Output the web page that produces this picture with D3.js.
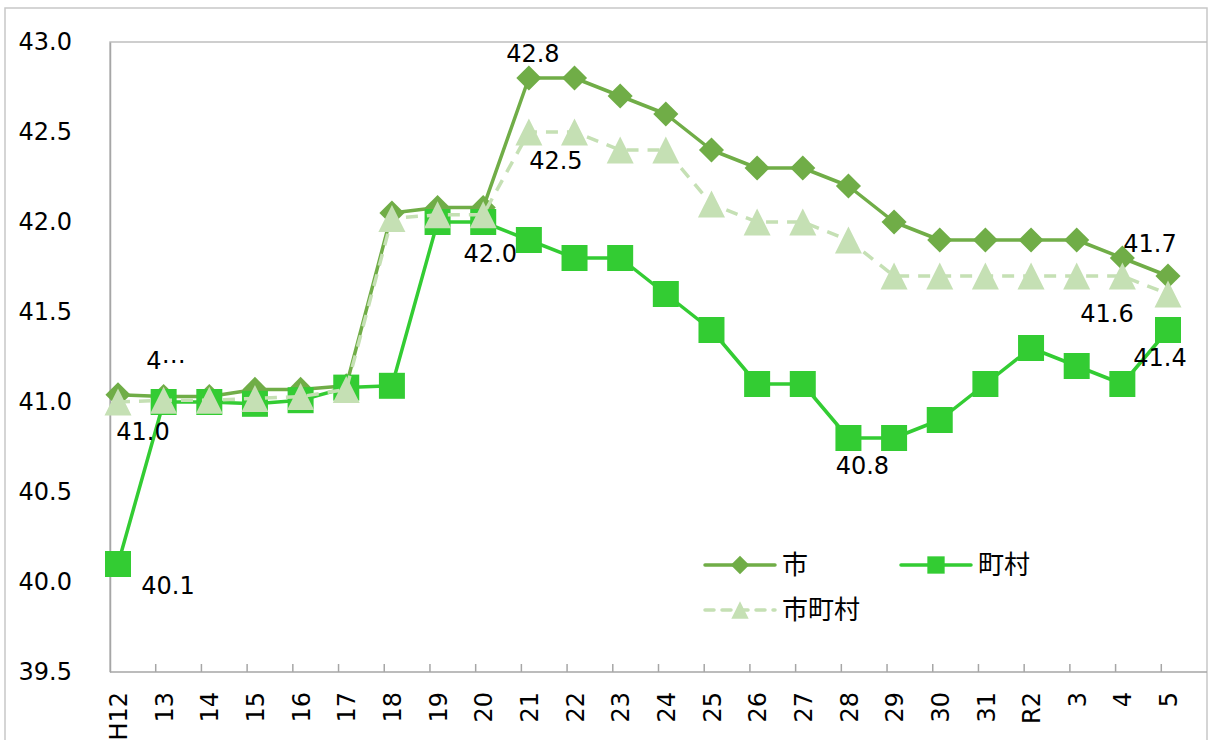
<!DOCTYPE html>
<html lang="ja">
<head>
  <meta charset="UTF-8">
  <title>市・町村・市町村</title>
  <script src="https://d3js.org/d3.v7.min.js"></script>
  <style>
    body { margin: 0; background: #fff; }
    text { font-family: "DejaVu Sans", sans-serif; fill: #000; }
    .legend text { font-family: "Noto Sans CJK JP", sans-serif; }
  </style>
</head>
<body>
<svg id="canvas" width="1213" height="740"></svg>
<script>
// categories (fiscal years)
const categories = ["H12","13","14","15","16","17","18","19","20","21","22","23","24","25","26","27","28","29","30","31","R2","3","4","5"];

// series values
const shi        = [41.04,41.03,41.03,41.07,41.07,41.09,42.05,42.08,42.08,42.8,42.8,42.7,42.6,42.4,42.3,42.3,42.2,42.0,41.9,41.9,41.9,41.9,41.8,41.7];
const chouson    = [40.1,41.0,41.0,40.99,41.01,41.08,41.09,42.0,42.0,41.9,41.8,41.8,41.6,41.4,41.1,41.1,40.8,40.8,40.9,41.1,41.3,41.2,41.1,41.4];
const shichouson = [41.0,41.01,41.01,41.02,41.03,41.07,42.02,42.04,42.04,42.5,42.5,42.4,42.4,42.1,42.0,42.0,41.9,41.7,41.7,41.7,41.7,41.7,41.7,41.6];

// y tick labels
const yTicks = [39.5,40.0,40.5,41.0,41.5,42.0,42.5,43.0];

// data labels: series, category index, text
const labelSeries = ["shichouson","shi","chouson","shi","shichouson","chouson","shi","shichouson","chouson","chouson"];
const labelIndex  = [0,0,0,9,9,8,23,23,23,16];
const labelText   = ["41.0","4⋯","40.1","42.8","42.5","42.0","41.7","41.6","41.4","40.8"];

const svg = d3.select("#canvas");

// outer frame
svg.append("path")
  .attr("d", "M5,740V8H1207V740")
  .attr("fill", "none").attr("stroke", "#c8c8c8").attr("stroke-width", 1.5);

const plotL = 110, plotR = 1207, plotT = 42, plotB = 672;

const x = d3.scalePoint().domain(categories).range([118, 1168]);
const xBand = d3.scaleBand().domain(categories).range([plotL, plotR]);
const y = d3.scaleLinear().domain([39.5, 43.0]).range([plotB, plotT]);

// plot area border
svg.append("path")
  .attr("d", `M${plotL},${plotB}V${plotT}H${plotR}`)
  .attr("fill", "none").attr("stroke", "#bfbfbf").attr("stroke-width", 1.5);

// y axis
const yAxis = svg.append("g")
  .attr("transform", `translate(${plotL},0)`)
  .call(d3.axisLeft(y).tickValues(yTicks).tickSize(0).tickFormat(d3.format(".1f")));
yAxis.select(".domain").attr("stroke", "#a6a6a6").attr("stroke-width", 1.5);
yAxis.selectAll("text")
  .attr("x", -38)
  .attr("font-family", "DejaVu Sans")
  .attr("font-size", 24)
  .attr("fill", "#000");

// x axis labels
const xAxis = svg.append("g")
  .attr("transform", `translate(0,${plotB})`)
  .call(d3.axisBottom(x).tickSize(0));
xAxis.select(".domain").remove();
xAxis.selectAll("text")
  .attr("transform", "rotate(-90)")
  .attr("text-anchor", "end")
  .attr("x", -20)
  .attr("y", 0)
  .attr("dy", "0.36em")
  .attr("font-family", "DejaVu Sans")
  .attr("font-size", 24)
  .attr("fill", "#000");

// x axis line and tick marks at category boundaries
svg.append("line")
  .attr("x1", plotL).attr("x2", plotR)
  .attr("y1", plotB).attr("y2", plotB)
  .attr("stroke", "#a6a6a6").attr("stroke-width", 1.5);
svg.append("g").selectAll("line")
  .data(categories.slice(1))
  .join("line")
  .attr("x1", d => xBand(d)).attr("x2", d => xBand(d))
  .attr("y1", plotB).attr("y2", plotB - 8)
  .attr("stroke", "#a6a6a6").attr("stroke-width", 1.5);

// Excel-like triangle: width equals height, centred on the point
const symbolTri = {
  draw(ctx, size) {
    const h = Math.sqrt(size * 2) / 2;
    ctx.moveTo(0, -h);
    ctx.lineTo(h, h);
    ctx.lineTo(-h, h);
    ctx.closePath();
  }
};

// series
const series = {
  shi: { values: shi, name: "市", color: "#70ad47", dash: null,
         symbol: d3.symbolSquare, size: 315, rotate: 45, legendSize: 170 },
  chouson: { values: chouson, name: "町村", color: "#33cc33", dash: null,
         symbol: d3.symbolSquare, size: 676, rotate: 0, legendSize: 300 },
  shichouson: { values: shichouson, name: "市町村", color: "#c5e0b4", dash: "12,9",
         symbol: symbolTri, size: 365, rotate: 0, legendSize: 150 }
};

const line = d3.line().x((d, i) => x(categories[i])).y(d => y(d));

["shi", "chouson", "shichouson"].forEach(key => {
  const s = series[key];
  const g = svg.append("g");
  g.append("path")
    .attr("d", line(s.values))
    .attr("fill", "none")
    .attr("stroke", s.color)
    .attr("stroke-width", 3.5)
    .attr("stroke-linejoin", "round")
    .attr("stroke-dasharray", s.dash);
  g.selectAll("path.mark")
    .data(s.values)
    .join("path")
    .attr("class", "mark")
    .attr("d", d3.symbol().type(s.symbol).size(s.size))
    .attr("transform", (d, i) => `translate(${x(categories[i])},${y(d)}) rotate(${s.rotate})`)
    .attr("fill", s.color);
});

// data labels
const labelOffset = [[25, 38], [48, -26], [50, 30], [4, -16], [27, 37], [7, 40], [-18, -24], [-61, 28], [-8, 36], [14, 36]];
svg.append("g").selectAll("text")
  .data(labelText)
  .join("text")
  .attr("x", (d, i) => x(categories[labelIndex[i]]) + labelOffset[i][0])
  .attr("y", (d, i) => y(series[labelSeries[i]].values[labelIndex[i]]) + labelOffset[i][1])
  .attr("text-anchor", "middle")
  .attr("font-size", 24)
  .text(d => d);

// legend
const legendPos = { shi: [705, 565], chouson: [901, 565], shichouson: [705, 610] };
const legend = svg.append("g").attr("class", "legend");
["shi", "chouson", "shichouson"].forEach(key => {
  const s = series[key];
  const [lx, ly] = legendPos[key];
  legend.append("line")
    .attr("x1", lx).attr("x2", lx + 70)
    .attr("y1", ly).attr("y2", ly)
    .attr("stroke", s.color).attr("stroke-width", 3.5)
    .attr("stroke-linecap", "round")
    .attr("stroke-dasharray", s.dash ? "9,8" : null);
  legend.append("path")
    .attr("d", d3.symbol().type(s.symbol).size(s.legendSize))
    .attr("transform", `translate(${lx + 35},${ly}) rotate(${s.rotate})`)
    .attr("fill", s.color);
  legend.append("text")
    .attr("x", lx + 77)
    .attr("y", ly)
    .attr("dy", "0.36em")
    .attr("font-size", 26)
    .text(s.name);
});
</script>
</body>
</html>
